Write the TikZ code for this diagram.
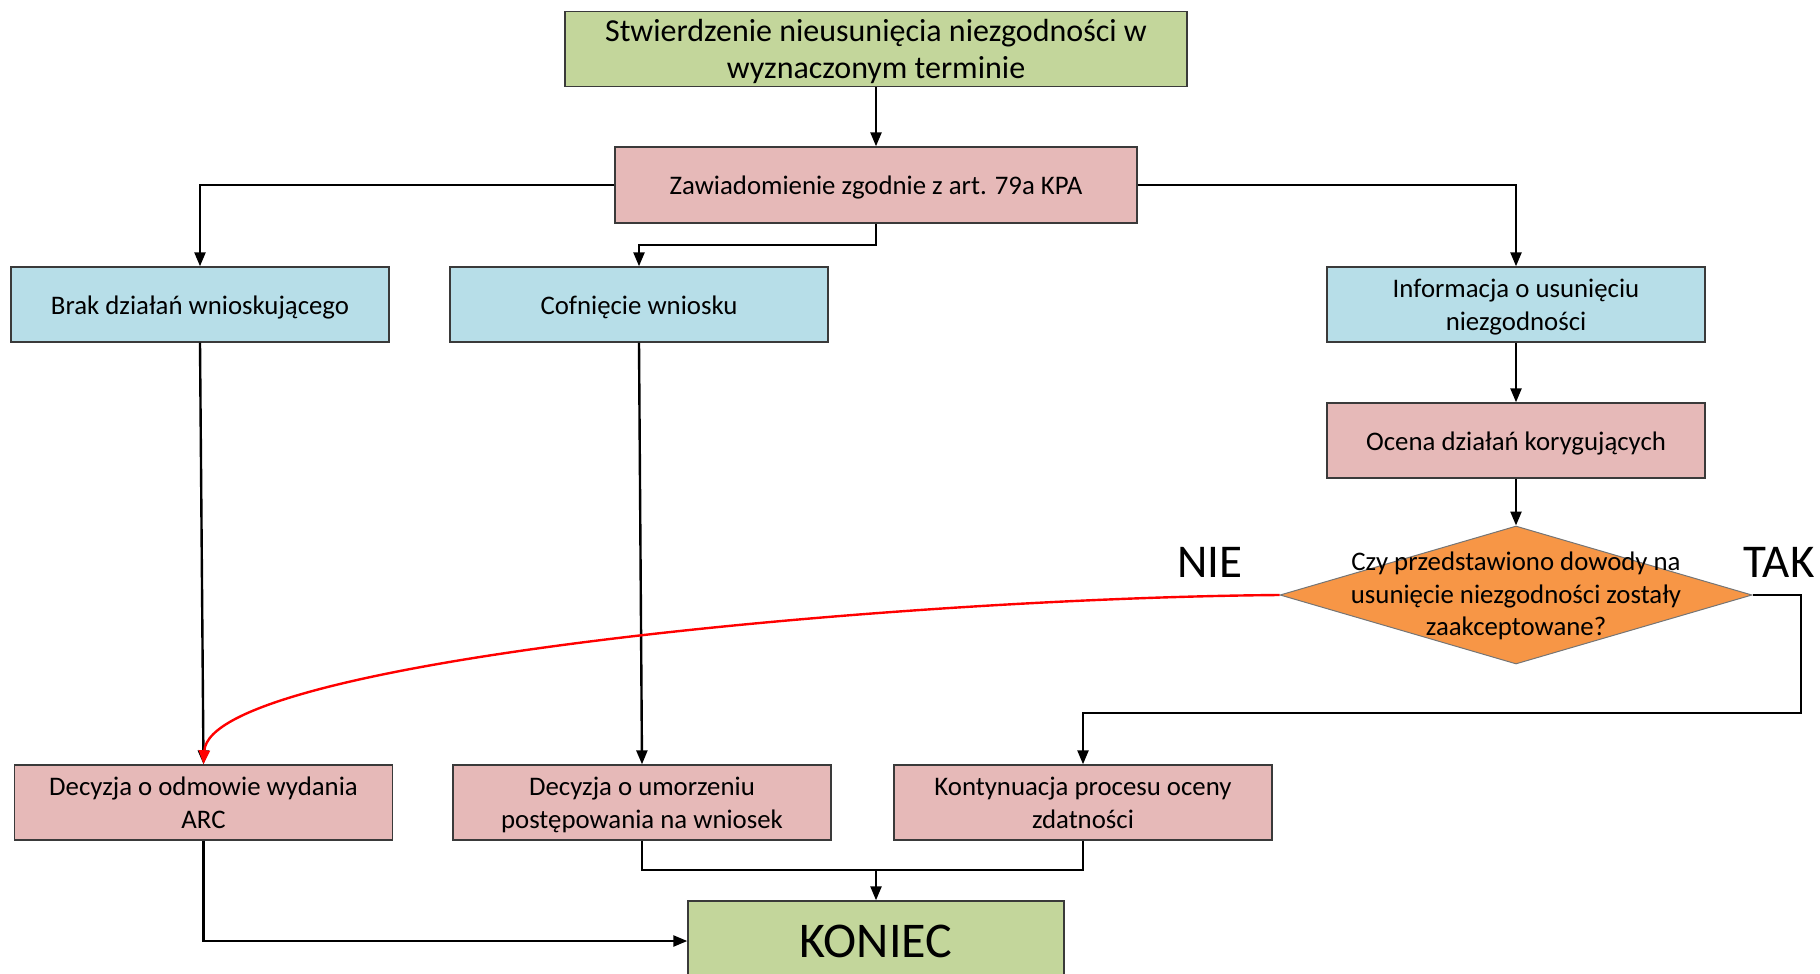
\documentclass[tikz,border=0pt]{standalone}
\usepackage{fontspec}
\setmainfont{Carlito}
\usetikzlibrary{shapes.geometric,arrows.meta}
\definecolor{cgreen}{HTML}{C3D69B}
\definecolor{cpink}{HTML}{E6B9B8}
\definecolor{cblue}{HTML}{B7DEE8}
\definecolor{corange}{HTML}{F79646}
\definecolor{cborder}{HTML}{3A3A3A}
\tikzset{
  box/.style={draw=cborder, line width=0.7pt, minimum width=189pt, minimum height=37.5pt, inner sep=0pt},
  txtlab/.style={align=center, font=\fontsize{13.4}{16.25}\selectfont, inner sep=0pt, yshift=-1.8pt, text depth=3.35pt},
  T/.style={label={[txtlab]center:{#1}}},
  pinkbox/.style={box, fill=cpink},
  bluebox/.style={box, fill=cblue},
  greenbox/.style={box, fill=cgreen},
  conn/.style={line width=1.2pt, black},
  arr/.style={conn, -{Triangle[length=7pt,width=5.5pt]}},
  redarr/.style={line width=1.2pt, red, -{Triangle[length=7pt,width=5.5pt]}},
  lbl/.style={font=\fontsize{23.5}{26}\selectfont, inner sep=0pt}
}
\begin{document}
\begin{tikzpicture}[x=0.5pt,y=-0.5pt]
\useasboundingbox (0,0) rectangle (1820,974);
\node[greenbox, minimum width=311pt, minimum height=37.75pt, label={[txtlab, text depth=4pt, font=\fontsize{16}{18.6}\selectfont]center:{Stwierdzenie nieusunięcia niezgodności w\\wyznaczonym terminie}}] (top) at (876,49) {};
\node[pinkbox, minimum width=261pt, minimum height=38pt, T={Zawiadomienie zgodnie z art. 79a KPA}] (zaw) at (876,185) {};
\node[bluebox, T={Brak działań wnioskującego}] (brak) at (200,304.5) {};
\node[bluebox, T={Cofnięcie wniosku}] (cof) at (639,304.5) {};
\node[bluebox, T={Informacja o usunięciu\\niezgodności}] (inf) at (1516,304.5) {};
\node[pinkbox, T={Ocena działań korygujących}] (oce) at (1516,440.5) {};
\node[diamond, draw=cborder!70, line width=0.5pt, fill=corange, minimum width=236pt, minimum height=69pt, inner sep=0pt] (dec) at (1516,595) {};
\node[align=center, font=\fontsize{13.4}{16.25}\selectfont, inner sep=0pt] (dect) at (1516,596) {Czy przedstawiono dowody na\\usunięcie niezgodności zostały\\zaakceptowane?};
\node[lbl] (nie) at (1210,562) {NIE};
\node[lbl] (tak) at (1779,562) {TAK};
\node[pinkbox, T={Decyzja o odmowie wydania\\ARC}] (odm) at (203.5,802.5) {};
\node[pinkbox, T={Decyzja o umorzeniu\\postępowania na wniosek}] (umo) at (642,802.5) {};
\node[pinkbox, T={Kontynuacja procesu oceny\\zdatności}] (kon) at (1083,802.5) {};
\node[greenbox, minimum width=188pt, minimum height=40pt, font=\fontsize{25}{28}\selectfont] (end) at (876,941) {KONIEC};
\coordinate (j1) at (876,245);
\coordinate (t1) at (1801,713);
\coordinate (j2) at (876,870);
\draw[arr] (top.south) -- (zaw.north);
\draw[arr] (zaw.west) -| (brak.north);
\draw[arr] (zaw.south) -- (j1) -| (cof.north);
\draw[arr] (zaw.east) -| (inf.north);
\draw[arr] (inf.south) -- (oce.north);
\draw[arr] (oce.south) -- (dec.north);
\draw[arr] (brak.south) -- (odm.north);
\draw[arr] (cof.south) -- (umo.north);
\draw[arr] (dec.east) -| (t1) -| (kon.north);
\draw[redarr] (dec.west) .. controls (900,598) and (210,660) .. (odm.north);
\draw[conn] (umo.south) |- (j2);
\draw[conn] (kon.south) |- (j2);
\draw[arr] (j2) -- (end.north);
\draw[arr] (odm.south) |- (end.west);
\end{tikzpicture}
\end{document}
